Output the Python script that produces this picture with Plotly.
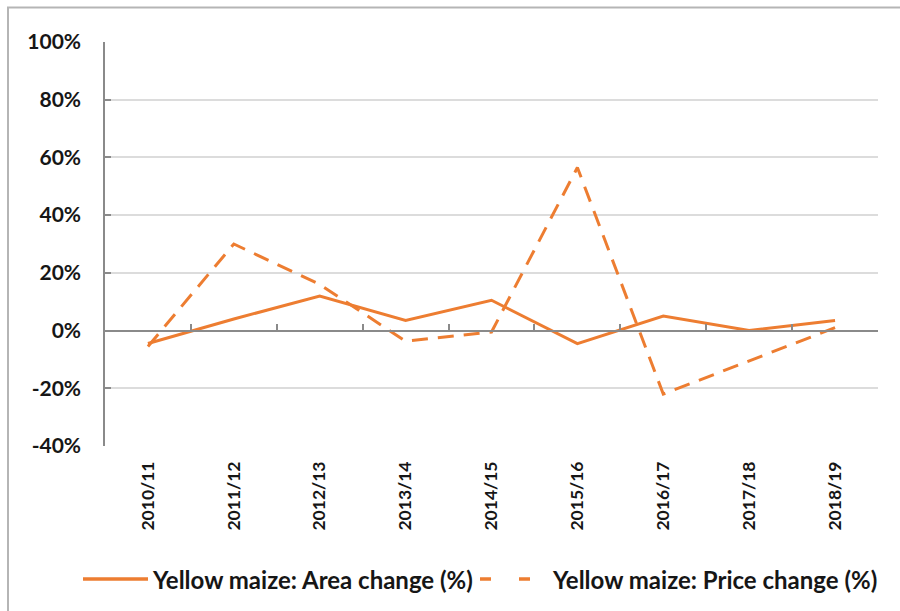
import plotly.graph_objects as go

# Marketing seasons
seasons = ["2010/11", "2011/12", "2012/13", "2013/14", "2014/15",
           "2015/16", "2016/17", "2017/18", "2018/19"]

# Year-on-year change in yellow maize planted area (%)
area_change = [-4.5, 4.0, 12.0, 3.5, 10.5, -4.5, 5.0, 0.0, 3.5]

# Year-on-year change in yellow maize price (%)
price_change = [-5.5, 30.0, 16.0, -3.7, -0.5, 56.5, -22.0, -10.5, 1.0]

series_names = ["Yellow maize: Area change (%)", "Yellow maize: Price change (%)"]

# Value axis ticks
y_ticks = [-40, -20, 0, 20, 40, 60, 80, 100]
y_tick_text = [f"{v}%" for v in y_ticks]

ORANGE = "#ED7D31"
FONT = "Lato"
W, H = 900, 611
ML, MR, MT, MB = 105, 22, 42, 165
PW, PH = W - ML - MR, H - MT - MB


def px_x(p):
    """Convert a pixel column to paper x."""
    return (p - ML) / PW


def px_y(p):
    """Convert a pixel row to paper y."""
    return (H - MB - p) / PH


fig = go.Figure()
fig.add_trace(go.Scatter(
    x=seasons, y=area_change, mode="lines", name=series_names[0],
    line=dict(color=ORANGE, width=3), showlegend=False,
))
fig.add_trace(go.Scatter(
    x=seasons, y=price_change, mode="lines", name=series_names[1],
    line=dict(color=ORANGE, width=3, dash="16px,10px"), showlegend=False,
))

# Boundaries between categories, used for the tick marks on the zero axis
n = len(seasons)
boundaries = [i + 0.5 for i in range(n)]
y_min, y_max = y_ticks[0], y_ticks[-1]

fig.update_layout(
    width=W, height=H,
    margin=dict(l=ML, r=MR, t=MT, b=MB),
    paper_bgcolor="white", plot_bgcolor="white",
    font=dict(family=FONT, color="#161616"),
    xaxis=dict(
        type="category", range=[-0.5, n - 0.5],
        showline=False, showgrid=False, zeroline=False, ticks="",
        tickangle=-90, tickfont=dict(size=17.5, family=FONT, weight="bold"),
        ticklabelstandoff=11,
    ),
    xaxis2=dict(
        overlaying="x", anchor="free",
        position=(0 - y_min) / (y_max - y_min),
        range=[-0.5, n - 0.5], showgrid=False, zeroline=False,
        showline=True, linecolor="#8a8a8a", linewidth=1.5,
        tickvals=boundaries, ticks="inside", ticklen=6,
        tickcolor="#8a8a8a", tickwidth=1.5, showticklabels=False,
    ),
    yaxis=dict(
        range=[y_min, y_max], tickvals=y_ticks, ticktext=y_tick_text,
        showgrid=True, gridcolor="#dcdcdc", gridwidth=1.5,
        zeroline=False, showline=True, linecolor="#8a8a8a", linewidth=1.5,
        ticks="inside", ticklen=6, tickcolor="#8a8a8a", tickwidth=1.5,
        tickfont=dict(size=21, family=FONT, weight="bold"),
        ticklabelstandoff=18,
    ),
)

# Invisible trace so that the zero axis is rendered
fig.add_trace(go.Scatter(x=[0], y=[0], xaxis="x2", mode="markers",
                         marker=dict(opacity=0), showlegend=False,
                         hoverinfo="skip"))

# Frame lines (top and left edges of the chart box)
fig.add_shape(type="line", xref="paper", yref="paper",
              x0=px_x(7), x1=px_x(900), y0=px_y(7.5), y1=px_y(7.5),
              line=dict(color="#b5b5b5", width=2))
fig.add_shape(type="line", xref="paper", yref="paper",
              x0=px_x(8), x1=px_x(8), y0=px_y(7), y1=px_y(611),
              line=dict(color="#b5b5b5", width=2))

# Legend drawn below the plot
leg_y = px_y(579)
fig.add_shape(type="line", xref="paper", yref="paper",
              x0=px_x(83), x1=px_x(148), y0=leg_y, y1=leg_y,
              line=dict(color=ORANGE, width=3.5))
fig.add_shape(type="line", xref="paper", yref="paper",
              x0=px_x(480), x1=px_x(530), y0=leg_y, y1=leg_y,
              line=dict(color=ORANGE, width=3.5, dash="11px,28px"))
fig.add_annotation(text=series_names[0], xref="paper", yref="paper",
                   x=px_x(150), y=leg_y, xanchor="left", yanchor="middle",
                   showarrow=False,
                   font=dict(size=24, family=FONT, weight="bold", color="#161616"))
fig.add_annotation(text=series_names[1], xref="paper", yref="paper",
                   x=px_x(550), y=leg_y, xanchor="left", yanchor="middle",
                   showarrow=False,
                   font=dict(size=24, family=FONT, weight="bold", color="#161616"))

fig.write_html("out.html")
